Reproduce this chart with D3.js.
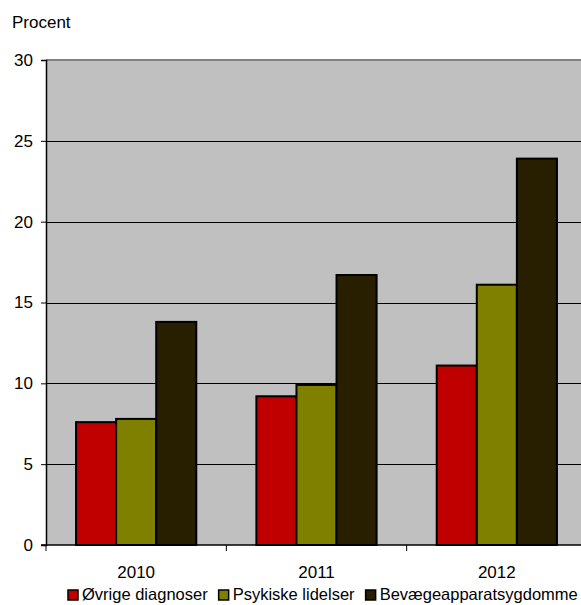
<!DOCTYPE html>
<html>
<head>
<meta charset="utf-8">
<script src="https://cdn.jsdelivr.net/npm/d3@7"></script>
<style>
  html, body { margin: 0; padding: 0; background: #fff; overflow: hidden; }
  text { font-family: "Liberation Sans", Arial, sans-serif; fill: #000; }
</style>
</head>
<body>
<div id="chart"></div>
<script>
// Data
const years = ['2010', '2011', '2012'];
const seriesNames = ['Øvrige diagnoser', 'Psykiske lidelser', 'Bevægeapparatsygdomme'];
const ovrige = [7.6, 9.2, 11.1];
const psykiske = [7.8, 9.9, 16.1];
const bevaege = [13.8, 16.7, 23.9];
const yTicks = [0, 5, 10, 15, 20, 25, 30];

const seriesColors = ['#C00000', '#7F8000', '#281E00'];
const seriesValues = [ovrige, psykiske, bevaege];

const width = 581, height = 605;
const margin = { top: 60, left: 46, bottom: 60 };
const plotRight = 587;   // plot area runs past the window edge
const plotBottom = height - margin.bottom;

const svg = d3.select('#chart')
    .append('svg')
    .attr('width', width)
    .attr('height', height);

const x = d3.scaleBand()
    .domain(years)
    .range([margin.left, plotRight])
    .padding(0);

const xInner = d3.scaleBand()
    .domain(seriesNames)
    .range([0, x.bandwidth()])
    .paddingInner(0)
    .paddingOuter(0.75);

const y = d3.scaleLinear()
    .domain([0, 30])
    .range([plotBottom, margin.top]);

// Plot background
svg.append('rect')
    .attr('x', margin.left)
    .attr('y', margin.top)
    .attr('width', plotRight - margin.left)
    .attr('height', plotBottom - margin.top)
    .attr('fill', '#C0C0C0');

// Gridlines
svg.append('g')
    .selectAll('line')
    .data(yTicks.filter(d => d > 0 && d < 30))
    .enter().append('line')
    .attr('x1', margin.left)
    .attr('x2', plotRight)
    .attr('y1', d => Math.round(y(d)) + 0.5)
    .attr('y2', d => Math.round(y(d)) + 0.5)
    .attr('stroke', '#000')
    .attr('stroke-width', 1);

// Top border of plot area
svg.append('line')
    .attr('x1', margin.left)
    .attr('x2', plotRight)
    .attr('y1', y(30))
    .attr('y2', y(30))
    .attr('stroke', '#808080')
    .attr('stroke-width', 2);

// Bars
const rows = years.map((yr, i) => ({
    year: yr,
    values: seriesNames.map((s, j) => ({ name: s, value: seriesValues[j][i], color: seriesColors[j] }))
}));

svg.append('g')
    .selectAll('g')
    .data(rows)
    .enter().append('g')
    .attr('transform', d => `translate(${x(d.year)},0)`)
    .selectAll('rect')
    .data(d => d.values)
    .enter().append('rect')
    .attr('x', d => xInner(d.name))
    .attr('y', d => y(d.value))
    .attr('width', xInner.bandwidth())
    .attr('height', d => plotBottom - y(d.value))
    .attr('fill', d => d.color)
    .attr('stroke', '#000')
    .attr('stroke-width', 2);

// Y axis
const yAxis = svg.append('g')
    .attr('transform', `translate(${margin.left},0)`)
    .call(d3.axisLeft(y).tickValues(yTicks).tickSize(5).tickPadding(8).tickFormat(d3.format('d')));
yAxis.select('.domain').attr('stroke', '#000').attr('stroke-width', 1.5);
yAxis.selectAll('.tick line').attr('stroke', '#000');
yAxis.selectAll('text')
    .style('font-family', '"Liberation Sans", Arial, sans-serif')
    .style('font-size', '17px');

// X axis: line with ticks at category boundaries
svg.append('line')
    .attr('x1', margin.left - 5)
    .attr('x2', plotRight)
    .attr('y1', plotBottom)
    .attr('y2', plotBottom)
    .attr('stroke', '#000')
    .attr('stroke-width', 1.5);

svg.append('g')
    .selectAll('line')
    .data(years)
    .enter().append('line')
    .attr('x1', d => x(d))
    .attr('x2', d => x(d))
    .attr('y1', plotBottom)
    .attr('y2', plotBottom + 6)
    .attr('stroke', '#000');

svg.append('g')
    .selectAll('text')
    .data(years)
    .enter().append('text')
    .attr('x', d => x(d) + x.bandwidth() / 2)
    .attr('y', 578)
    .attr('text-anchor', 'middle')
    .style('font-size', '17px')
    .text(d => d);

// Axis title
svg.append('text')
    .attr('x', 12)
    .attr('y', 28)
    .style('font-size', '17px')
    .text('Procent');

// Legend
const legend = svg.append('g');
let lx = 68;
seriesNames.forEach((name, i) => {
    legend.append('rect')
        .attr('x', lx)
        .attr('y', 590)
        .attr('width', 10)
        .attr('height', 10)
        .attr('fill', seriesColors[i])
        .attr('stroke', '#000')
        .attr('stroke-width', 1.5);
    const t = legend.append('text')
        .attr('x', lx + 14)
        .attr('y', 600)
        .style('font-size', '16.5px')
        .text(name);
    lx += 14 + t.node().getComputedTextLength() + 11;
});
</script>
</body>
</html>
